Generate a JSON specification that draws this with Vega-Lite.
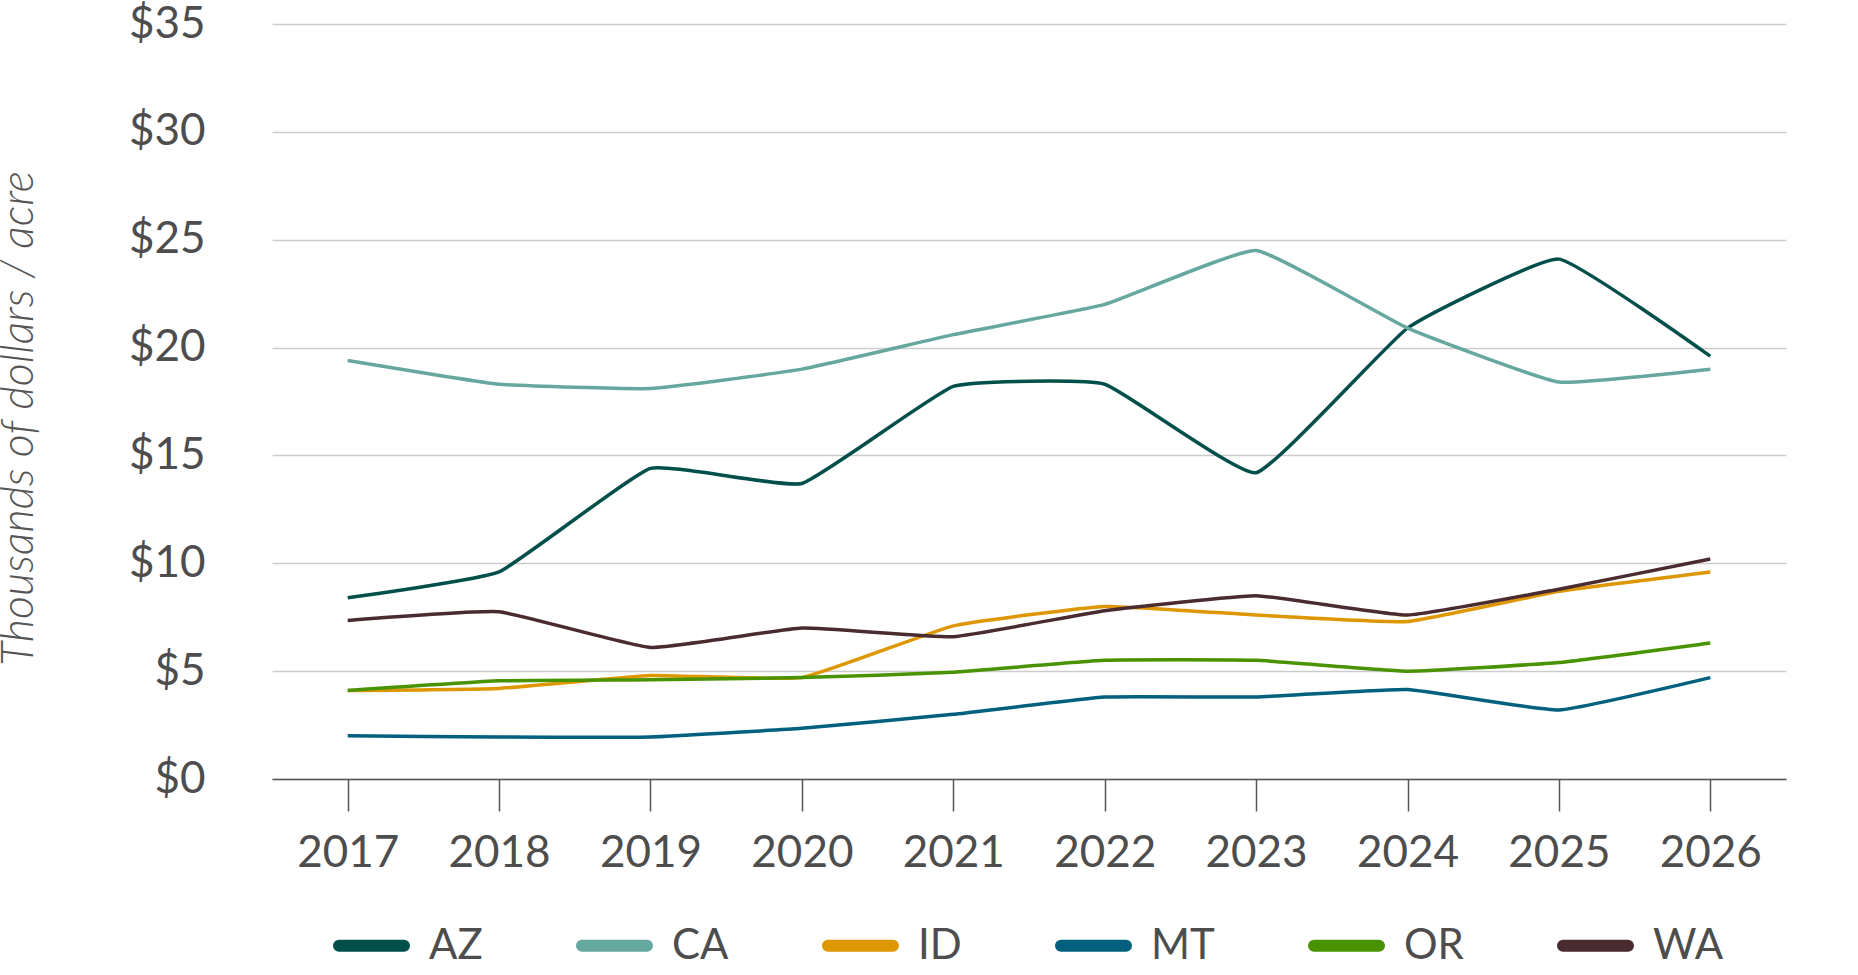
{
  "$schema": "https://vega.github.io/schema/vega-lite/v6.json",
  "width": 1514,
  "height": 755,
  "autosize": {"type": "none"},
  "padding": {"left": 272, "top": 24, "right": 72, "bottom": 196},
  "background": "white",
  "data": {
    "values": [
      {"year": "2017", "state": "AZ", "value": 8.4},
      {"year": "2018", "state": "AZ", "value": 9.6},
      {"year": "2019", "state": "AZ", "value": 14.4},
      {"year": "2020", "state": "AZ", "value": 13.7},
      {"year": "2021", "state": "AZ", "value": 18.2},
      {"year": "2022", "state": "AZ", "value": 18.3},
      {"year": "2023", "state": "AZ", "value": 14.2},
      {"year": "2024", "state": "AZ", "value": 20.9},
      {"year": "2025", "state": "AZ", "value": 24.1},
      {"year": "2026", "state": "AZ", "value": 19.6},
      {"year": "2017", "state": "CA", "value": 19.4},
      {"year": "2018", "state": "CA", "value": 18.3},
      {"year": "2019", "state": "CA", "value": 18.1},
      {"year": "2020", "state": "CA", "value": 19.0},
      {"year": "2021", "state": "CA", "value": 20.6},
      {"year": "2022", "state": "CA", "value": 22.0},
      {"year": "2023", "state": "CA", "value": 24.5},
      {"year": "2024", "state": "CA", "value": 20.9},
      {"year": "2025", "state": "CA", "value": 18.4},
      {"year": "2026", "state": "CA", "value": 19.0},
      {"year": "2017", "state": "ID", "value": 4.1},
      {"year": "2018", "state": "ID", "value": 4.2},
      {"year": "2019", "state": "ID", "value": 4.8},
      {"year": "2020", "state": "ID", "value": 4.7},
      {"year": "2021", "state": "ID", "value": 7.1},
      {"year": "2022", "state": "ID", "value": 8.0},
      {"year": "2023", "state": "ID", "value": 7.6},
      {"year": "2024", "state": "ID", "value": 7.3},
      {"year": "2025", "state": "ID", "value": 8.7},
      {"year": "2026", "state": "ID", "value": 9.6},
      {"year": "2017", "state": "MT", "value": 2.0},
      {"year": "2018", "state": "MT", "value": 1.95},
      {"year": "2019", "state": "MT", "value": 1.95},
      {"year": "2020", "state": "MT", "value": 2.35},
      {"year": "2021", "state": "MT", "value": 3.0},
      {"year": "2022", "state": "MT", "value": 3.8},
      {"year": "2023", "state": "MT", "value": 3.8},
      {"year": "2024", "state": "MT", "value": 4.15},
      {"year": "2025", "state": "MT", "value": 3.2},
      {"year": "2026", "state": "MT", "value": 4.7},
      {"year": "2017", "state": "OR", "value": 4.1},
      {"year": "2018", "state": "OR", "value": 4.55},
      {"year": "2019", "state": "OR", "value": 4.6},
      {"year": "2020", "state": "OR", "value": 4.7},
      {"year": "2021", "state": "OR", "value": 4.95},
      {"year": "2022", "state": "OR", "value": 5.5},
      {"year": "2023", "state": "OR", "value": 5.5},
      {"year": "2024", "state": "OR", "value": 5.0},
      {"year": "2025", "state": "OR", "value": 5.4},
      {"year": "2026", "state": "OR", "value": 6.3},
      {"year": "2017", "state": "WA", "value": 7.35},
      {"year": "2018", "state": "WA", "value": 7.75},
      {"year": "2019", "state": "WA", "value": 6.1},
      {"year": "2020", "state": "WA", "value": 7.0},
      {"year": "2021", "state": "WA", "value": 6.6},
      {"year": "2022", "state": "WA", "value": 7.8},
      {"year": "2023", "state": "WA", "value": 8.5},
      {"year": "2024", "state": "WA", "value": 7.6},
      {"year": "2025", "state": "WA", "value": 8.8},
      {"year": "2026", "state": "WA", "value": 10.2}
    ]
  },
  "mark": {"type": "line", "interpolate": "cardinal", "tension": 0.65, "strokeWidth": 3.5},
  "encoding": {
    "x": {
      "field": "year",
      "type": "ordinal",
      "scale": {"type": "point", "padding": 0.5},
      "axis": {
        "title": null,
        "labelAngle": 0,
        "labelFont": "Lato",
        "labelFontSize": 44,
        "labelColor": "#4d4d4d",
        "labelPadding": 20,
        "domainColor": "#555555",
        "domainWidth": 1.5,
        "tickColor": "#555555",
        "tickWidth": 1.5,
        "tickSize": 32
      }
    },
    "y": {
      "field": "value",
      "type": "quantitative",
      "scale": {"domain": [0, 35]},
      "axis": {
        "title": "Thousands of dollars / acre",
        "titleFont": "Lato",
        "titleFontStyle": "italic",
        "titleFontWeight": 300,
        "titleFontSize": 45,
        "titleColor": "#555555",
        "titleAngle": 270,
        "titleAlign": "center",
        "titleBaseline": "middle",
        "titleX": -254,
        "titleY": 394,
        "values": [0, 5, 10, 15, 20, 25, 30, 35],
        "labelExpr": "'$' + datum.value",
        "labelFont": "Lato",
        "labelFontSize": 44,
        "labelColor": "#4d4d4d",
        "labelPadding": 67,
        "domain": false,
        "ticks": false,
        "grid": true,
        "gridColor": "#cccccc",
        "gridWidth": 1.5
      }
    },
    "color": {
      "field": "state",
      "type": "nominal",
      "scale": {
        "domain": ["AZ", "CA", "ID", "MT", "OR", "WA"],
        "range": ["#004f4a", "#66a8a0", "#de9700", "#00607d", "#4a9300", "#4a2b30"]
      },
      "legend": {
        "title": null,
        "orient": "none",
        "direction": "horizontal",
        "columns": 6,
        "legendX": 61,
        "legendY": 883,
        "padding": 0,
        "symbolType": "stroke",
        "symbolSize": 4225,
        "symbolStrokeWidth": 12,
        "labelFont": "Lato",
        "labelFontSize": 42,
        "labelColor": "#4d4d4d",
        "labelOffset": 19,
        "columnPadding": 75,
        "encode": {"symbols": {"update": {"strokeCap": {"value": "round"}}}}
      }
    }
  },
  "config": {"view": {"stroke": null}}
}
